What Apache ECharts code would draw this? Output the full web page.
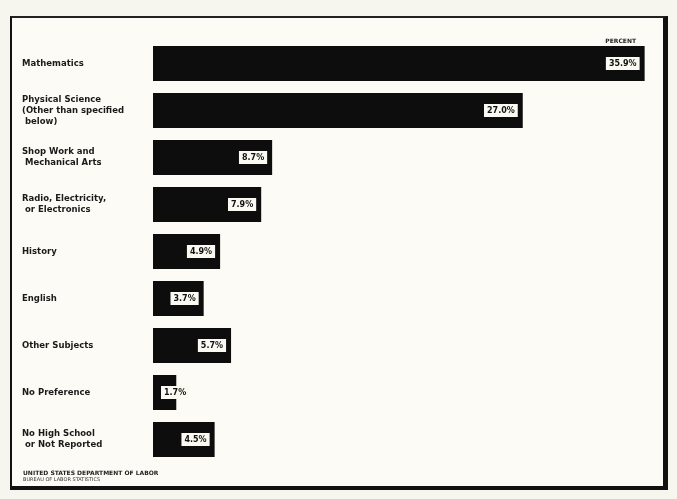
<!DOCTYPE html>
<html>
<head>
    <meta charset="UTF-8">
    <title>Subject preference</title>
    <script src="https://cdn.jsdelivr.net/npm/echarts@6/dist/echarts.min.js"></script>
    <style>
        body {
            margin: 0;
            padding: 0;
            background: #f6f5ee;
        }

        .frame {
            position: absolute;
            left: 10px;
            top: 16px;
            width: 651px;
            height: 468px;
            border-left: 2px solid #111;
            border-top: 2px solid #222;
            border-right: 5px solid #111;
            border-bottom: 4px solid #111;
            background: #fcfbf5;
        }

        #chart {
            position: absolute;
            left: 0;
            top: 0;
            width: 677px;
            height: 499px;
        }
    </style>
</head>
<body>
<div class="frame"></div>
<div id="chart"></div>
<script>
    var categories = [
        'Mathematics',
        'Physical Science\n(Other than specified\n below)',
        'Shop Work and\n Mechanical Arts',
        'Radio, Electricity,\n or Electronics',
        'History',
        'English',
        'Other Subjects',
        'No Preference',
        'No High School\n or Not Reported'
    ];
    var percents = [35.9, 27.0, 8.7, 7.9, 4.9, 3.7, 5.7, 1.7, 4.5];

    var chart = echarts.init(document.getElementById('chart'), null, {renderer: 'canvas'});

    var barData = percents.map(function (v) {
        var item = {value: v};
        if (v < 3) {
            item.label = {position: 'insideLeft', distance: 8};
        }
        return item;
    });

    var option = {
        backgroundColor: 'transparent',
        animation: false,
        title: [{
            text: 'PERCENT',
            right: 36,
            top: 33,
            textStyle: {fontFamily: 'DejaVu Sans', fontSize: 6, fontWeight: 'bold', color: '#222'}
        }, {
            text: 'UNITED STATES DEPARTMENT OF LABOR',
            subtext: 'BUREAU OF LABOR STATISTICS',
            left: 18,
            top: 465,
            itemGap: 1,
            textStyle: {fontFamily: 'DejaVu Sans', fontSize: 6, fontWeight: 'bold', color: '#222'},
            subtextStyle: {fontFamily: 'DejaVu Sans', fontSize: 5, color: '#333'}
        }],
        grid: {
            left: 153,
            right: 31,
            top: 40,
            bottom: 36
        },
        xAxis: {
            type: 'value',
            min: 0,
            max: 36,
            show: false
        },
        yAxis: {
            type: 'category',
            inverse: true,
            data: categories,
            axisLine: {show: false},
            axisTick: {show: false},
            axisLabel: {
                align: 'left',
                margin: 131,
                fontFamily: 'DejaVu Sans',
                fontSize: 8.5,
                fontWeight: 'bold',
                lineHeight: 11,
                color: '#1a1a1a'
            }
        },
        series: [{
            type: 'bar',
            data: barData,
            barWidth: 35,
            itemStyle: {color: '#0d0d0d'},
            label: {
                show: true,
                position: 'insideRight',
                distance: 5,
                formatter: function (p) {
                    return p.value.toFixed(1) + '%';
                },
                fontFamily: 'DejaVu Sans',
                fontSize: 8,
                fontWeight: 'bold',
                color: '#111',
                backgroundColor: '#fbfaf2',
                padding: [3, 3, 2, 3]
            }
        }]
    };

    chart.setOption(option);
</script>
</body>
</html>
